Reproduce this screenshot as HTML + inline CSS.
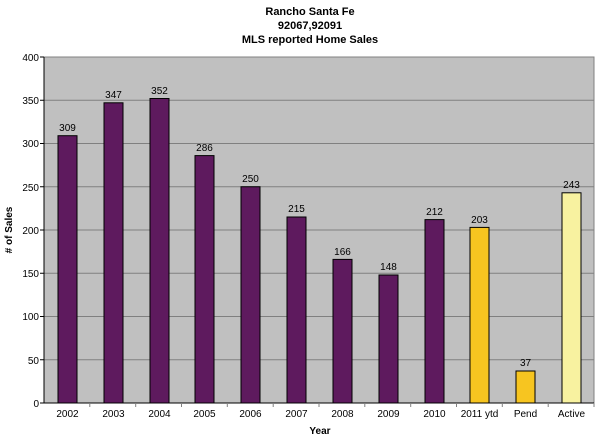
<!DOCTYPE html>
<html><head><style>
body{margin:0;background:#fff;}
svg text{font-family:"Liberation Sans",Arial,sans-serif;}
</style></head><body>
<svg width="600" height="439" xmlns="http://www.w3.org/2000/svg">
<g font-weight="bold" font-size="11" text-anchor="middle">
<text x="310" y="15">Rancho Santa Fe</text>
<text x="310" y="29">92067,92091</text>
<text x="310" y="43">MLS reported Home Sales</text>
</g>
<rect x="44" y="57" width="550" height="346" fill="#c0c0c0" stroke="#808080" stroke-width="1"/>
<g stroke="#808080" stroke-width="1">
<line x1="44" x2="594" y1="100.25" y2="100.25"/>
<line x1="44" x2="594" y1="143.5" y2="143.5"/>
<line x1="44" x2="594" y1="186.75" y2="186.75"/>
<line x1="44" x2="594" y1="230" y2="230"/>
<line x1="44" x2="594" y1="273.25" y2="273.25"/>
<line x1="44" x2="594" y1="316.5" y2="316.5"/>
<line x1="44" x2="594" y1="359.75" y2="359.75"/>
</g>
<g stroke="#000" stroke-width="1">
<line x1="44" x2="44" y1="57" y2="403"/>
<line x1="44" x2="594" y1="403" y2="403"/>
<line x1="40" x2="44" y1="57" y2="57"/><line x1="40" x2="44" y1="100.25" y2="100.25"/>
<line x1="40" x2="44" y1="143.5" y2="143.5"/><line x1="40" x2="44" y1="186.75" y2="186.75"/>
<line x1="40" x2="44" y1="230" y2="230"/><line x1="40" x2="44" y1="273.25" y2="273.25"/>
<line x1="40" x2="44" y1="316.5" y2="316.5"/><line x1="40" x2="44" y1="359.75" y2="359.75"/>
<line x1="40" x2="44" y1="403" y2="403"/>
</g>
<g stroke="#808080" stroke-width="1">
<line x1="89.8" x2="89.8" y1="403" y2="407"/><line x1="135.7" x2="135.7" y1="403" y2="407"/>
<line x1="181.5" x2="181.5" y1="403" y2="407"/><line x1="227.3" x2="227.3" y1="403" y2="407"/>
<line x1="273.2" x2="273.2" y1="403" y2="407"/><line x1="319" x2="319" y1="403" y2="407"/>
<line x1="364.8" x2="364.8" y1="403" y2="407"/><line x1="410.7" x2="410.7" y1="403" y2="407"/>
<line x1="456.5" x2="456.5" y1="403" y2="407"/><line x1="502.3" x2="502.3" y1="403" y2="407"/>
<line x1="548.2" x2="548.2" y1="403" y2="407"/><line x1="594" x2="594" y1="403" y2="407"/>
</g>
<g font-size="10" text-anchor="end" fill="#000">
<text x="39" y="61">400</text><text x="39" y="104">350</text><text x="39" y="147">300</text>
<text x="39" y="191">250</text><text x="39" y="234">200</text><text x="39" y="277">150</text>
<text x="39" y="320">100</text><text x="39" y="364">50</text><text x="39" y="407">0</text>
</g>
<text font-size="10" font-weight="bold" text-anchor="middle" transform="translate(12,230) rotate(-90)"># of Sales</text>
<text font-size="10" font-weight="bold" text-anchor="middle" x="320" y="434">Year</text>
<g stroke="#000" stroke-width="1">
<rect x="58" y="135.7" width="19" height="267.3" fill="#5e1a5e"/>
<rect x="104" y="102.8" width="19" height="300.2" fill="#5e1a5e"/>
<rect x="150" y="98.5" width="19" height="304.5" fill="#5e1a5e"/>
<rect x="195" y="155.6" width="19" height="247.4" fill="#5e1a5e"/>
<rect x="241" y="186.75" width="19" height="216.25" fill="#5e1a5e"/>
<rect x="287" y="217" width="19" height="186" fill="#5e1a5e"/>
<rect x="333" y="259.4" width="19" height="143.6" fill="#5e1a5e"/>
<rect x="379" y="275" width="19" height="128" fill="#5e1a5e"/>
<rect x="425" y="219.6" width="19" height="183.4" fill="#5e1a5e"/>
<rect x="470" y="227.4" width="19" height="175.6" fill="#f7c520"/>
<rect x="516" y="371" width="19" height="32" fill="#f7c520"/>
<rect x="562" y="192.8" width="19" height="210.2" fill="#f8f2a0"/>
</g>
<g font-size="10" text-anchor="middle">
<text x="67.5" y="131">309</text><text x="113.5" y="98">347</text><text x="159.5" y="94">352</text>
<text x="204.5" y="151">286</text><text x="250.5" y="182">250</text><text x="296.5" y="212">215</text>
<text x="342.5" y="255">166</text><text x="388.5" y="270">148</text><text x="434.5" y="215">212</text>
<text x="479.5" y="223">203</text><text x="525.5" y="366">37</text><text x="571.5" y="188">243</text>
</g>
<g font-size="10" text-anchor="middle">
<text x="67.5" y="417">2002</text><text x="113.5" y="417">2003</text><text x="159.5" y="417">2004</text>
<text x="204.5" y="417">2005</text><text x="250.5" y="417">2006</text><text x="296.5" y="417">2007</text>
<text x="342.5" y="417">2008</text><text x="388.5" y="417">2009</text><text x="434.5" y="417">2010</text>
<text x="479.5" y="417">2011 ytd</text><text x="525.5" y="417">Pend</text><text x="571.5" y="417">Active</text>
</g>
</svg>
</body></html>
